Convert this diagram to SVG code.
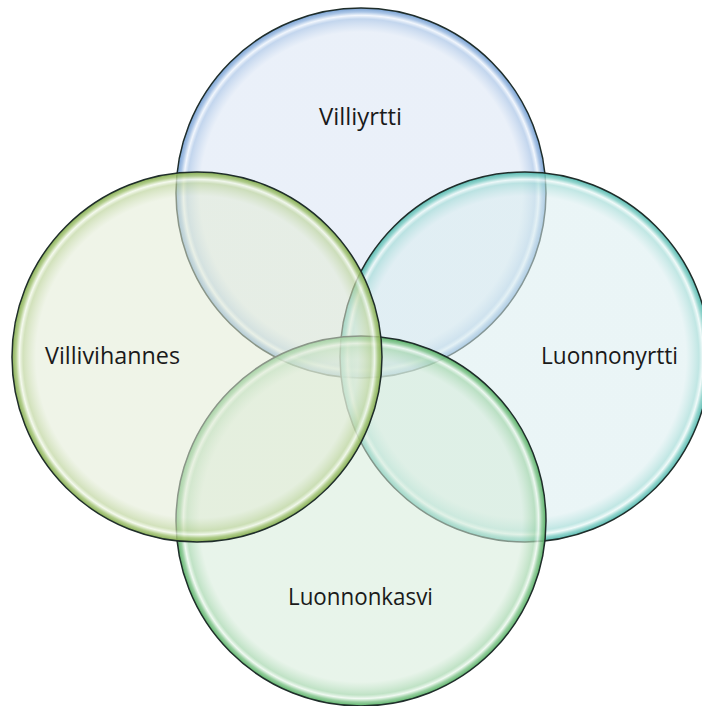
<svg xmlns="http://www.w3.org/2000/svg" width="702" height="706" viewBox="0 0 702 706">
<defs>
<radialGradient id="gBlue" cx="0.5" cy="0.5" r="0.5">
<stop offset="0" stop-color="#D9E4F4" stop-opacity="0.55"/>
<stop offset="0.87" stop-color="#D9E4F4" stop-opacity="0.55"/>
<stop offset="0.94" stop-color="#A9C4E6" stop-opacity="0.7"/>
<stop offset="0.96" stop-color="#EEF4FC" stop-opacity="0.8"/>
<stop offset="0.978" stop-color="#9DBCE2" stop-opacity="0.85"/>
<stop offset="1" stop-color="#6F9BD0" stop-opacity="0.95"/>
</radialGradient>
<radialGradient id="gLeft" cx="0.5" cy="0.5" r="0.5">
<stop offset="0" stop-color="#E2EBD5" stop-opacity="0.55"/>
<stop offset="0.87" stop-color="#E2EBD5" stop-opacity="0.55"/>
<stop offset="0.94" stop-color="#BFD59F" stop-opacity="0.7"/>
<stop offset="0.96" stop-color="#F2F8EA" stop-opacity="0.8"/>
<stop offset="0.978" stop-color="#A8C77C" stop-opacity="0.85"/>
<stop offset="1" stop-color="#7FA94A" stop-opacity="0.95"/>
</radialGradient>
<radialGradient id="gTeal" cx="0.5" cy="0.5" r="0.5">
<stop offset="0" stop-color="#D9EDEF" stop-opacity="0.55"/>
<stop offset="0.87" stop-color="#D9EDEF" stop-opacity="0.55"/>
<stop offset="0.94" stop-color="#A6DCD8" stop-opacity="0.7"/>
<stop offset="0.96" stop-color="#EDF9F8" stop-opacity="0.8"/>
<stop offset="0.978" stop-color="#86D0C8" stop-opacity="0.85"/>
<stop offset="1" stop-color="#4DB5AA" stop-opacity="0.95"/>
</radialGradient>
<radialGradient id="gBottom" cx="0.5" cy="0.5" r="0.5">
<stop offset="0" stop-color="#D5EBD9" stop-opacity="0.55"/>
<stop offset="0.87" stop-color="#D5EBD9" stop-opacity="0.55"/>
<stop offset="0.94" stop-color="#A5D6AD" stop-opacity="0.7"/>
<stop offset="0.96" stop-color="#EDF8EF" stop-opacity="0.8"/>
<stop offset="0.978" stop-color="#88C892" stop-opacity="0.85"/>
<stop offset="1" stop-color="#52AE60" stop-opacity="0.95"/>
</radialGradient>
</defs>
<style>
.c{stroke:#1F2D2A;stroke-width:1.5}
.t{font-family:"Open Sans","Liberation Sans",sans-serif;font-size:23px;fill:#1A1A1A;text-anchor:middle}
</style>
<rect width="702" height="706" fill="#FFFFFF"/>
<g id="villiyrtti">
<circle class="c" cx="361" cy="193" r="185" fill="url(#gBlue)"/>
</g>
<g id="luonnonyrtti">
<circle class="c" cx="525" cy="357" r="185" fill="url(#gTeal)"/>
</g>
<g id="luonnonkasvi">
<circle class="c" cx="361" cy="521" r="185" fill="url(#gBottom)"/>
</g>
<g id="villivihannes">
<circle class="c" cx="197" cy="357" r="185" fill="url(#gLeft)"/>
</g>
<g id="connectors"></g>
<g id="labels">
<text class="t" x="360.5" y="125" textLength="83" lengthAdjust="spacingAndGlyphs">Villiyrtti</text>
<text class="t" x="112.5" y="364" textLength="135" lengthAdjust="spacingAndGlyphs">Villivihannes</text>
<text class="t" x="609.5" y="364" textLength="137" lengthAdjust="spacingAndGlyphs">Luonnonyrtti</text>
<text class="t" x="360.5" y="605" textLength="145" lengthAdjust="spacingAndGlyphs">Luonnonkasvi</text>
</g>
</svg>
